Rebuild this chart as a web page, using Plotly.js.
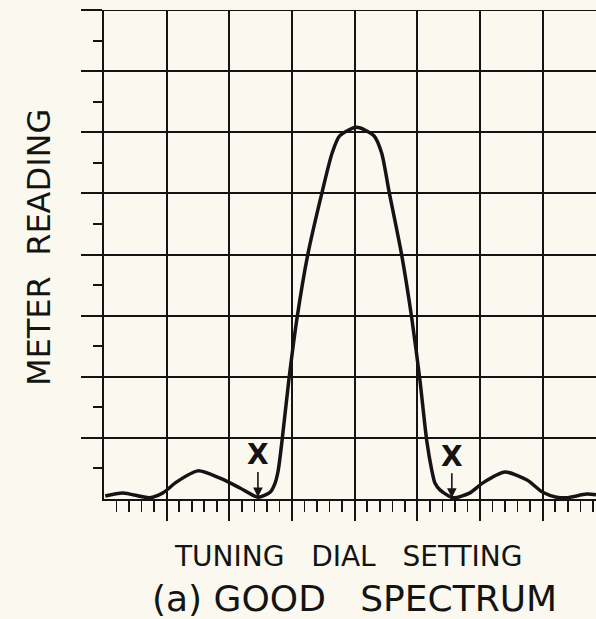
<!DOCTYPE html>
<html>
<head>
<meta charset="utf-8">
<script src="https://cdn.plot.ly/plotly-3.0.1.min.js"></script>
<style>
  html, body { margin: 0; padding: 0; background: #fbf9ef; }
  #chart { width: 596px; height: 619px; }
</style>
</head>
<body>
<div id="chart"></div>
<script>
// Tuning dial setting (grid divisions) vs meter reading (grid divisions)
const dialSetting = [0.02, 0.30, 0.73, 0.94, 1.16, 1.50, 1.85, 2.17, 2.455, 2.65, 2.73, 2.78, 2.84, 2.95, 3.08, 3.25, 3.48, 3.64, 3.76, 4.03, 4.31, 4.43, 4.55, 4.75, 4.91, 5.04, 5.15, 5.23, 5.28, 5.36, 5.57, 5.84, 6.04, 6.40, 6.75, 7.00, 7.22, 7.38, 7.70, 7.85];
const meterReading = [0.05, 0.10, 0.02, 0.10, 0.28, 0.46, 0.34, 0.18, 0.03, 0.11, 0.26, 0.47, 0.95, 1.95, 2.96, 3.99, 5.02, 5.66, 5.94, 6.08, 5.94, 5.66, 5.02, 3.99, 2.96, 1.95, 0.95, 0.47, 0.26, 0.15, 0.02, 0.10, 0.26, 0.44, 0.31, 0.11, 0.03, 0.02, 0.08, 0.07];

// "X" marks with arrows pointing at the first minima
const markX = [2.456, 5.55];
const markLabelY = [0.72, 0.70];
const markTipY = [0.03, 0.02];
const markText = ['X', 'X'];

// Axis ticks
const xMajor = [1, 2, 3, 4, 5, 6, 7];
const xMinor = [];
for (let i = 0; i < 8; i++) { for (let j = 1; j <= 4; j++) { xMinor.push(+(i + j * 0.2).toFixed(2)); } }
const yMajor = [1, 2, 3, 4, 5, 6, 7, 8];
const yMinor = [0.5, 1.5, 2.5, 3.5, 4.5, 5.5, 6.5, 7.5];

const xTitle = 'TUNING\u00a0\u00a0\u00a0DIAL\u00a0\u00a0\u00a0SETTING';
const yTitle = 'METER\u00a0\u00a0READING';
const caption = '(a) GOOD\u00a0\u00a0\u00a0SPECTRUM';

const ink = '#141414';
const paper = '#fbf9ef';
const font = 'DejaVu Sans, sans-serif';

const trace = {
  x: dialSetting, y: meterReading,
  type: 'scatter', mode: 'lines',
  line: { color: ink, width: 3.5, shape: 'spline', smoothing: 0.7 },
  hoverinfo: 'skip'
};

const annotations = markX.map((x, i) => ({
  x: x, y: markTipY[i], xref: 'x', yref: 'y',
  ax: x, ay: markLabelY[i], axref: 'x', ayref: 'y',
  text: markText[i], showarrow: true,
  arrowhead: 2, arrowsize: 1.2, arrowwidth: 1.6, arrowcolor: ink,
  standoff: 0, borderpad: 0,
  font: { family: font, size: 28, color: ink, weight: 'bold' }
}));

annotations.push({
  text: yTitle, xref: 'paper', yref: 'paper',
  x: (39 - 104) / 492, y: (499 - 248) / 489,
  xanchor: 'center', yanchor: 'middle', textangle: -90, showarrow: false,
  font: { family: font, size: 32, color: ink }
});
annotations.push({
  text: xTitle, xref: 'paper', yref: 'paper',
  x: (348 - 104) / 492, y: (499 - 556) / 489,
  xanchor: 'center', yanchor: 'middle', showarrow: false,
  font: { family: font, size: 28, color: ink }
});
annotations.push({
  text: caption, xref: 'paper', yref: 'paper',
  x: (354 - 104) / 492, y: (499 - 598) / 489,
  xanchor: 'center', yanchor: 'middle', showarrow: false,
  font: { family: font, size: 36, color: ink }
});

const layout = {
  width: 596, height: 619,
  margin: { l: 104, r: 0, t: 10, b: 120, pad: 0 },
  paper_bgcolor: paper, plot_bgcolor: paper,
  showlegend: false,
  xaxis: {
    range: [0, 7.85], fixedrange: true,
    tickmode: 'array', tickvals: xMajor, showticklabels: false,
    ticks: 'outside', ticklen: 20, tickwidth: 2, tickcolor: ink,
    showgrid: true, gridcolor: ink, gridwidth: 2,
    showline: true, linecolor: ink, linewidth: 2, zeroline: false,
    minor: { tickmode: 'array', tickvals: xMinor, ticks: 'outside', ticklen: 11, tickwidth: 1.6, tickcolor: ink, showgrid: false }
  },
  yaxis: {
    range: [0, 8], fixedrange: true,
    tickmode: 'array', tickvals: yMajor, showticklabels: false,
    ticks: 'outside', ticklen: 21, tickwidth: 2, tickcolor: ink,
    showgrid: true, gridcolor: ink, gridwidth: 2,
    showline: true, linecolor: ink, linewidth: 2, zeroline: false,
    minor: { tickmode: 'array', tickvals: yMinor, ticks: 'outside', ticklen: 9, tickwidth: 2, tickcolor: ink, showgrid: false }
  },
  shapes: [
    { type: 'line', xref: 'paper', yref: 'y', x0: 0, x1: 1, y0: 8, y1: 8, line: { color: ink, width: 2 }, layer: 'below' }
  ],
  annotations: annotations
};

Plotly.newPlot('chart', [trace], layout, { staticPlot: true, displayModeBar: false });
</script>
</body>
</html>
